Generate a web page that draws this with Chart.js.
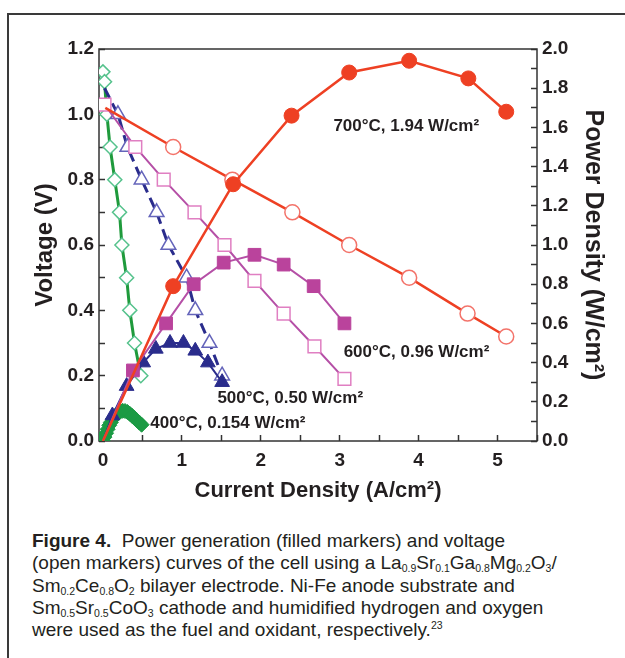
<!DOCTYPE html>
<html><head><meta charset="utf-8">
<script src="https://cdn.jsdelivr.net/npm/chart.js@4.4.1/dist/chart.umd.min.js"></script>
<style>
html,body{margin:0;padding:0;background:#fff;}
body{width:625px;height:658px;position:relative;overflow:hidden;font-family:'Liberation Sans',Arial,sans-serif;}
#frame{position:absolute;left:7px;top:13px;width:640px;height:660px;border-top:2px solid #3a3a3a;border-left:2px solid #3a3a3a;}
#chart{position:absolute;left:0;top:0;}
#caption{position:absolute;left:32px;top:530px;font-size:19px;line-height:22.3px;color:#231f20;white-space:nowrap;}
#caption sub{font-size:10.5px;vertical-align:-3px;line-height:0;}
#caption sup{font-size:10.5px;vertical-align:7px;line-height:0;}
</style></head>
<body>
<div id="frame"></div>
<canvas id="chart" width="625" height="510"></canvas>
<div id="caption"><b>Figure 4.</b>&nbsp; Power generation (filled markers) and voltage<br>(open markers) curves of the cell using a La<sub>0.9</sub>Sr<sub>0.1</sub>Ga<sub>0.8</sub>Mg<sub>0.2</sub>O<sub>3</sub>/<br>Sm<sub>0.2</sub>Ce<sub>0.8</sub>O<sub>2</sub> bilayer electrode. Ni-Fe anode substrate and<br>Sm<sub>0.5</sub>Sr<sub>0.5</sub>CoO<sub>3</sub> cathode and humidified hydrogen and oxygen<br>were used as the fuel and oxidant, respectively.<sup>23</sup></div>
<script>
// ---- data ----
const currentV700 = [0.03, 0.89, 1.64, 2.40, 3.12, 3.88, 4.62, 5.11];
const voltage700  = [1.02, 0.90, 0.80, 0.70, 0.60, 0.50, 0.39, 0.32];
const currentP700 = [0.00, 0.89, 1.65, 2.39, 3.12, 3.88, 4.63, 5.11];
const power700    = [0.00, 0.79, 1.31, 1.66, 1.88, 1.94, 1.85, 1.68];

const currentV600 = [0.02, 0.41, 0.77, 1.16, 1.54, 1.92, 2.29, 2.68, 3.06];
const voltage600  = [1.03, 0.90, 0.80, 0.70, 0.60, 0.49, 0.39, 0.29, 0.19];
const currentP600 = [0.00, 0.38, 0.80, 1.15, 1.53, 1.92, 2.29, 2.67, 3.06];
const power600    = [0.00, 0.36, 0.60, 0.80, 0.91, 0.95, 0.90, 0.79, 0.60];

const currentV500 = [0.02, 0.19, 0.31, 0.49, 0.68, 0.83, 1.06, 1.17, 1.35, 1.51];
const voltage500  = [1.08, 1.00, 0.90, 0.80, 0.70, 0.60, 0.50, 0.40, 0.30, 0.20];
const currentP500 = [0.00, 0.12, 0.30, 0.51, 0.67, 0.85, 1.02, 1.17, 1.33, 1.51];
const power500    = [0.00, 0.13, 0.28, 0.40, 0.47, 0.50, 0.50, 0.46, 0.40, 0.30];

const currentV400 = [0.00, 0.02, 0.05, 0.09, 0.15, 0.21, 0.24, 0.30, 0.34, 0.40, 0.48];
const voltage400  = [1.13, 1.10, 1.00, 0.90, 0.80, 0.70, 0.60, 0.50, 0.40, 0.30, 0.20];
const currentP400 = [0.00, 0.02, 0.04, 0.06, 0.08, 0.10, 0.13, 0.16, 0.19, 0.22, 0.25, 0.28, 0.31, 0.34, 0.37, 0.40, 0.43, 0.46, 0.49];
const power400    = [0.00, 0.02, 0.04, 0.06, 0.08, 0.095, 0.115, 0.13, 0.142, 0.150, 0.154, 0.153, 0.148, 0.139, 0.128, 0.117, 0.105, 0.094, 0.083];

// ---- ticks ----
const xTickMarks = [0, 0.5, 1, 1.5, 2, 2.5, 3, 3.5, 4, 4.5, 5, 5.5];
const xTickLabels = [0, 1, 2, 3, 4, 5];
const vTickMarks = [0, 0.1, 0.2, 0.3, 0.4, 0.5, 0.6, 0.7, 0.8, 0.9, 1.0, 1.1, 1.2];
const vTickLabels = [0, 0.2, 0.4, 0.6, 0.8, 1.0, 1.2];
const pTickMarks = [0, 0.1, 0.2, 0.3, 0.4, 0.5, 0.6, 0.7, 0.8, 0.9, 1.0, 1.1, 1.2, 1.3, 1.4, 1.5, 1.6, 1.7, 1.8, 1.9, 2.0];
const pTickLabels = [0, 0.2, 0.4, 0.6, 0.8, 1.0, 1.2, 1.4, 1.6, 1.8, 2.0];

// ---- labels ----
const annotations = [
  {text: '700°C, 1.94 W/cm²', x: 2.92, v: 0.962},
  {text: '600°C, 0.96 W/cm²', x: 3.05, v: 0.270},
  {text: '500°C, 0.50 W/cm²', x: 1.45, v: 0.130},
  {text: '400°C, 0.154 W/cm²', x: 0.60, v: 0.053}
];

const FONT = "'Liberation Sans', Arial, sans-serif";
Chart.defaults.font.family = FONT;
Chart.defaults.color = '#231f20';

function pts(xs, ys) { return xs.map((x, i) => ({x: x, y: ys[i]})); }
function hideFirst(xs, r) { return xs.map((x, i) => i === 0 ? 0 : r); }

const datasets = [
  {data: pts(currentP700, power700), yAxisID: 'yP', borderColor: '#EE4023', backgroundColor: '#EE4023',
   borderWidth: 2.5, pointStyle: 'circle', pointRadius: hideFirst(currentP700, 7.5), pointBorderWidth: 1},
  {data: pts(currentV700, voltage700), yAxisID: 'yV', borderColor: '#EE4023', backgroundColor: '#ffffff',
   pointBorderColor: '#F3736A', borderWidth: 2.5, pointStyle: 'circle', pointRadius: hideFirst(currentV700, 7.5), pointBorderWidth: 1.5},
  {data: pts(currentP600, power600), yAxisID: 'yP', borderColor: '#B54FA6', backgroundColor: '#BA439C',
   pointBorderColor: '#BA439C', borderWidth: 2, pointStyle: 'rect', pointRadius: hideFirst(currentP600, 9), pointBorderWidth: 1},
  {data: pts(currentV600, voltage600), yAxisID: 'yV', borderColor: '#B54FA6', backgroundColor: '#ffffff',
   pointBorderColor: '#E07FC2', borderWidth: 2, pointStyle: 'rect', pointRadius: 9, pointBorderWidth: 1.5},
  {data: pts(currentP500, power500), yAxisID: 'yP', borderColor: '#2A2C8C', backgroundColor: '#2A2C8C',
   borderWidth: 2, pointStyle: 'triangle', pointRadius: hideFirst(currentP500, 8.5), pointBorderWidth: 1},
  {data: pts(currentV500, voltage500), yAxisID: 'yV', borderColor: '#2A2C8C', backgroundColor: '#ffffff',
   pointBorderColor: '#6464BA', borderWidth: 3, borderDash: [11, 6], pointStyle: 'triangle', pointRadius: hideFirst(currentV500, 8.5), pointBorderWidth: 1.5},
  {data: pts(currentP400, power400), yAxisID: 'yP', borderColor: '#1B9A44', backgroundColor: '#1B9A44',
   borderWidth: 3, pointStyle: 'rectRot', pointRadius: 7.5, pointBorderWidth: 1},
  {data: pts(currentV400, voltage400), yAxisID: 'yV', borderColor: '#1F9A3C', backgroundColor: '#ffffff',
   pointBorderColor: '#55C28C', borderWidth: 3, pointStyle: 'rectRot', pointRadius: 7, pointBorderWidth: 1.5}
];

const framePlugin = {
  id: 'frameBox',
  beforeDatasetsDraw(chart) {
    const {ctx, chartArea: a} = chart;
    ctx.save();
    ctx.strokeStyle = '#333';
    ctx.lineWidth = 1.5;
    ctx.strokeRect(a.left, a.top, a.right - a.left, a.bottom - a.top);
    ctx.restore();
  }
};
const labelPlugin = {
  id: 'tempLabels',
  afterDatasetsDraw(chart) {
    const {ctx, scales} = chart;
    ctx.save();
    ctx.font = "bold 17px " + FONT;
    ctx.fillStyle = '#231f20';
    ctx.textBaseline = 'middle';
    ctx.textAlign = 'left';
    annotations.forEach(a => {
      ctx.fillText(a.text, scales.x.getPixelForValue(a.x), scales.yV.getPixelForValue(a.v));
    });
    ctx.restore();
  }
};

const gridOpts = {display: true, drawOnChartArea: false, drawTicks: true, tickLength: -6, tickColor: '#333', tickWidth: 1.5};
const tickFont = {size: 19, weight: 'bold'};

new Chart(document.getElementById('chart'), {
  type: 'line',
  data: {datasets: datasets},
  options: {
    responsive: false,
    animation: false,
    devicePixelRatio: 1,
    elements: {line: {tension: 0, fill: false}},
    layout: {padding: {left: 33, right: 20, top: 49, bottom: 8}},
    plugins: {legend: {display: false}, tooltip: {enabled: false}},
    scales: {
      x: {
        type: 'linear', position: 'bottom', min: -0.05, max: 5.5,
        afterBuildTicks: s => { s.ticks = xTickMarks.map(v => ({value: v})); },
        afterFit: s => { s.height = 61; },
        ticks: {autoSkip: false, maxRotation: 0, padding: 14, font: tickFont,
                callback: v => xTickLabels.includes(v) ? String(v) : ''},
        grid: gridOpts, border: {display: false},
        title: {display: true, text: 'Current Density (A/cm²)', font: {size: 22, weight: 'bold', lineHeight: 1}, padding: 0}
      },
      yV: {
        type: 'linear', position: 'left', min: 0, max: 1.2,
        afterBuildTicks: s => { s.ticks = vTickMarks.map(v => ({value: v})); },
        afterFit: s => { s.width = 66; },
        ticks: {autoSkip: false, padding: 11, font: tickFont,
                callback: v => vTickLabels.includes(v) ? v.toFixed(1) : ''},
        grid: gridOpts, border: {display: false},
        title: {display: true, text: 'Voltage (V)', font: {size: 24, weight: 'bold', lineHeight: 1}, padding: 0}
      },
      yP: {
        type: 'linear', position: 'right', min: 0, max: 2.0,
        afterBuildTicks: s => { s.ticks = pTickMarks.map(v => ({value: v})); },
        afterFit: s => { s.width = 68; },
        ticks: {autoSkip: false, padding: 11, font: tickFont,
                callback: v => pTickLabels.includes(v) ? v.toFixed(1) : ''},
        grid: gridOpts, border: {display: false},
        title: {display: true, text: 'Power Density (W/cm²)', font: {size: 25, weight: 'bold', lineHeight: 1}, padding: 0}
      }
    }
  },
  plugins: [framePlugin, labelPlugin]
});
</script>
</body></html>
